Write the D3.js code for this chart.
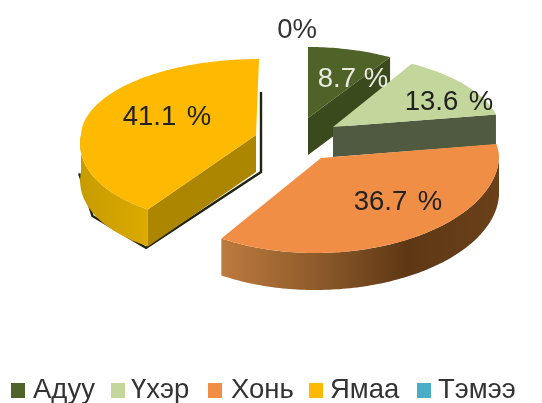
<!DOCTYPE html>
<html><head><meta charset="utf-8">
<script src="https://cdn.jsdelivr.net/npm/d3@7"></script>
<style>html,body{margin:0;padding:0;background:#fff;overflow:hidden}
svg{display:block;filter:blur(.45px)}text{font-family:"Liberation Sans",Arial,sans-serif}</style>
</head><body>
<script>
const categories = ["Адуу","Үхэр","Хонь","Ямаа","Тэмээ"];
const values = [8.7,13.6,36.7,41.1,0];
const valueLabels = ["8.7 %","13.6 %","36.7 %","41.1 %","0%"];
const topColors = ["#4f6228","#c3d69b","#f08e46","#fdba00","#4bacc6"];
const labelColors = ["#e9ebe0","#222","#222","#222","#333"];
const cutColors = ["#3b4a1c","#4f5a40",null,"#ad8600",null];
const sideStops = [["#3b4a1c","#3b4a1c"],["#4f5a40","#4f5a40"],["#bd7a3e","#8f5c2b","#5e3815","#6a4019"],["#c89c00","#dcaa00"],["#333","#333"]];
const frames = [
 {ax:308,ay:118,rx:158,ryT:71,ryB:71,shT:0,shB:0,d:37,lx:353,ly:87,ws:0},
 {ax:333,ay:127,rx:167,ryT:74,ryB:74,shT:.127,shB:0,d:30,lx:449,ly:110,ws:3},
 {ax:321,ay:158,rx:178,ryT:82,ryB:95,shT:0,shB:-.06,d:37,lx:398,ly:210,ws:3},
 {ax:256,ay:135,rx:175,ryT:76,ryB:88,shT:-.04,shB:-.2,d:37,lx:167,ly:125,ws:3},
 {ax:297,ay:0,rx:0,ryT:0,ryB:0,shT:0,shB:0,d:0,lx:297,ly:38,ws:0}
];
const legendX = [11,111,208,309,417];
const legendTextX = [33,131,231,330,438];

const W=542,H=403;
const svg=d3.select("body").append("svg").attr("width",W).attr("height",H);
const defs=svg.append("defs");
const color=d3.scaleOrdinal(categories,topColors);
const arcs=d3.pie().sort(null).value((d,i)=>values[i])(categories);
const line=d3.line();

function pt(f,a,dz=0){
  const c=Math.cos(a),s=Math.sin(a);
  const dy=(c>0?-f.ryT*c:-f.ryB*c);
  const sh=c>0?f.shT:f.shB;
  return [f.ax+f.rx*s+sh*dy,f.ay+dy+dz];
}
function samples(a0,a1){
  const n=Math.max(2,Math.ceil((a1-a0)/.02));
  return d3.range(n+1).map(i=>a0+(a1-a0)*i/n);
}
const order=[0,1,3,2];
const g=svg.append("g");
order.forEach(i=>{
  const f=frames[i],p=arcs[i],a0=p.startAngle,a1=p.endAngle;
  const apex=[f.ax,f.ay];
  if(i===3){
    const rim=samples(Math.PI*1.5,a0).reverse().map(a=>pt(f,a,f.d)).map(q=>[q[0]-1.8,q[1]+1.4]);
    const rimPts=[[apex[0]+5,f.ay-43],[apex[0]+5,f.ay+f.d],...rim];
    g.append("path").attr("d",line(rimPts)).attr("fill","none").attr("stroke","#23240f").attr("stroke-width",2.4);
  }
  const lo=Math.max(a0,Math.PI/2),hi=Math.min(a1,Math.PI*1.5);
  if(hi>lo){
    const gid="side"+i;
    const xs=samples(lo,hi).map(a=>pt(f,a)[0]);
    const lg=defs.append("linearGradient").attr("id",gid).attr("gradientUnits","userSpaceOnUse")
      .attr("x1",d3.min(xs)).attr("x2",d3.max(xs)).attr("y1",0).attr("y2",0);
    sideStops[i].forEach((c,k,arr)=>lg.append("stop").attr("offset",k/(arr.length-1)).attr("stop-color",c));
    const s=samples(lo,hi);
    const poly=[...s.map(a=>pt(f,a)),...s.slice().reverse().map(a=>pt(f,a,f.d))];
    g.append("path").attr("d",line(poly)+"Z").attr("fill",`url(#${gid})`);
  }
  if(cutColors[i]){
    const e=pt(f,i===3?a0:a1);
    g.append("path").attr("d",line([apex,e,[e[0],e[1]+f.d],[apex[0],apex[1]+f.d]])+"Z").attr("fill",cutColors[i]);
  }
  g.append("path").attr("d",line([apex,...samples(a0,a1).map(a=>pt(f,a))])+"Z").attr("fill",color(categories[i]));
});
svg.append("g").selectAll("text").data(categories).join("text")
  .attr("x",(d,i)=>frames[i].lx).attr("y",(d,i)=>frames[i].ly)
  .attr("text-anchor","middle").attr("font-size",27.5).attr("fill",(d,i)=>labelColors[i])
  .attr("word-spacing",(d,i)=>frames[i].ws)
  .text((d,i)=>valueLabels[i]);
const lg=svg.append("g");
lg.selectAll("rect").data(categories).join("rect")
  .attr("x",(d,i)=>legendX[i]).attr("y",383).attr("width",14).attr("height",15).attr("fill",d=>color(d));
lg.selectAll("text").data(categories).join("text")
  .attr("x",(d,i)=>legendTextX[i]).attr("y",398).attr("font-size",27.5).attr("fill","#333").text(d=>d);
</script>
</body></html>
